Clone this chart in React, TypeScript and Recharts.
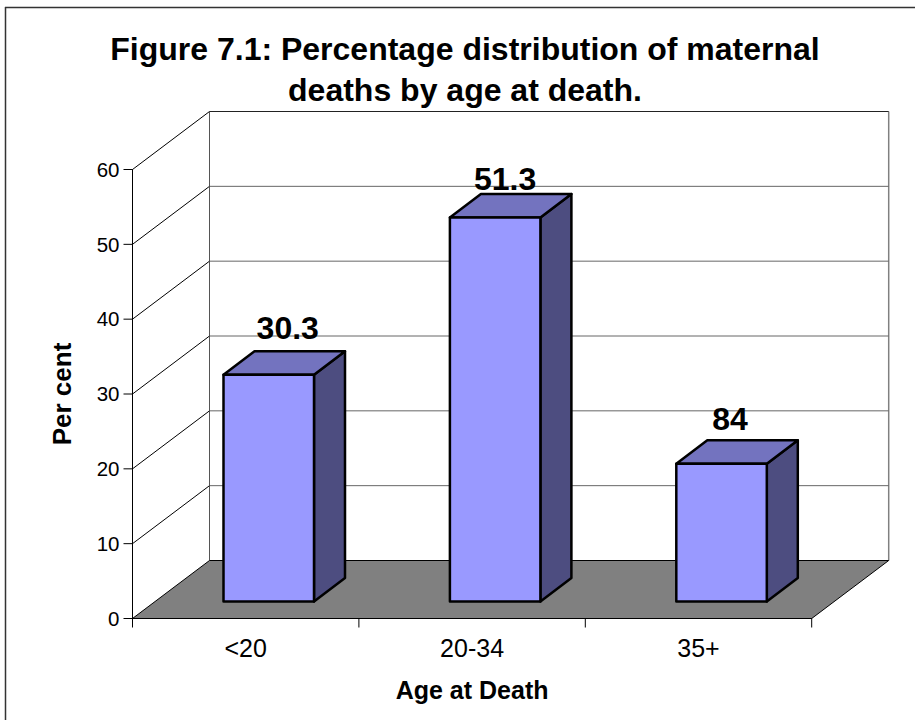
import { BarChart, Bar, XAxis, YAxis, CartesianGrid, LabelList } from 'recharts'

const categories = ['<20', '20-34', '35+']
const percents = [30.3, 51.3, 18.4]
// the third label really is cut down to "84" in the source figure
const barLabels = ['30.3', '51.3', '84']
const yTicks = [0, 10, 20, 30, 40, 50, 60]

const rows = categories.map((age, i) => ({ age, percent: percents[i], label: barLabels[i] }))

const FONT = "'Liberation Sans', Arial, sans-serif"
const W = 915
const H = 720
const LEFT = 132.5
const RIGHT = 811.7
const TOP = 169.5
const BOTTOM = 618.5
const BAND = (RIGHT - LEFT) / categories.length
// depth of the fake 3D box
const DX = 77
const DY = -58
// how far the bars sit inside the floor, and how deep they are
const BAR_DX = 23
const BAR_DY = -17
const BAR_DEPTH_X = 31
const BAR_DEPTH_Y = -23.5
const labelNudge = [
  { dx: 19, dy: -36 },
  { dx: 10, dy: -28 },
  { dx: 8.5, dy: -34 },
]

function BoxBar(props: any) {
  const x = props.x + BAR_DX
  const y = props.y + BAR_DY
  const w = props.width
  const h = props.height
  const dx = BAR_DEPTH_X
  const dy = BAR_DEPTH_Y
  const common = { stroke: '#000', strokeWidth: 2.5, strokeLinejoin: 'round' as const }
  return (
    <g>
      <polygon points={`${x + w},${y} ${x + w + dx},${y + dy} ${x + w + dx},${y + h + dy} ${x + w},${y + h}`} fill="#4D4D80" {...common} />
      <polygon points={`${x},${y} ${x + dx},${y + dy} ${x + w + dx},${y + dy} ${x + w},${y}`} fill="#7373BF" {...common} />
      <rect x={x} y={y} width={w} height={h} fill="#9999FF" {...common} />
    </g>
  )
}

function BarValue(props: any) {
  const { x, y, width, value, index } = props
  const nudge = labelNudge[index]
  return (
    <text
      x={x + BAR_DX + width / 2 + nudge.dx}
      y={y + BAR_DY + nudge.dy}
      textAnchor="middle"
      fontFamily={FONT}
      fontSize={32}
      fontWeight={700}
      fill="#000"
    >
      {value}
    </text>
  )
}

// tick marks sit between the categories, not under them
function AgeTick(props: any) {
  const { x, y, payload, index } = props
  return (
    <g>
      <line x1={x - BAND / 2} y1={y} x2={x - BAND / 2} y2={y + 9} stroke="#000" />
      {index === categories.length - 1 && <line x1={x + BAND / 2} y1={y} x2={x + BAND / 2} y2={y + 9} stroke="#000" />}
      <text x={x} y={y + 38} textAnchor="middle" fontFamily={FONT} fontSize={25} fill="#000">
        {payload.value}
      </text>
    </g>
  )
}

// the grid callback draws the wall line and the diagonal on the side wall for each tick
function WallLine(props: any) {
  const { x1, x2, y1, key } = props
  const isFloor = Math.abs(y1 - BOTTOM) < 1
  const isTop = Math.abs(y1 - TOP) < 1
  return (
    <g key={key}>
      {isFloor && (
        <>
          <line x1={x1} y1={TOP} x2={x1} y2={BOTTOM} stroke="#000" />
          <line x1={x1 + DX} y1={TOP + DY} x2={x1 + DX} y2={BOTTOM + DY} stroke="#555" />
          <line x1={x2 + DX} y1={TOP + DY} x2={x2 + DX} y2={BOTTOM + DY} stroke="#808080" strokeWidth={1.5} />
          <polygon
            points={`${x1},${y1} ${x2},${y1} ${x2 + DX},${y1 + DY} ${x1 + DX},${y1 + DY}`}
            fill="#808080"
            stroke="#000"
            strokeWidth={1}
          />
        </>
      )}
      {!isFloor && <line x1={x1} y1={y1} x2={x1 + DX} y2={y1 + DY} stroke="#000" strokeWidth={1} />}
      {!isFloor && (
        <line x1={x1 + DX} y1={y1 + DY} x2={x2 + DX} y2={y1 + DY} stroke={isTop ? '#222' : '#666'} strokeWidth={1} />
      )}
    </g>
  )
}

const titleStyle = { fontFamily: FONT, fontSize: 32, fontWeight: 700, fill: '#000' }

export default function App() {
  return (
    <div style={{ position: 'absolute', left: 0, top: 0, width: W, height: H, background: '#fff', overflow: 'hidden' }}>
      <BarChart
        width={W}
        height={H}
        data={rows}
        margin={{ top: TOP, right: W - RIGHT, bottom: 0, left: 0 }}
        barSize={90.5}
      >
        <CartesianGrid horizontal={WallLine as any} vertical={false} />
        <XAxis
          dataKey="age"
          height={H - BOTTOM}
          tickLine={false}
          tickSize={0}
          tickMargin={0}
          tick={AgeTick}
          axisLine={{ stroke: '#000' }}
          label={{ value: 'Age at Death', position: 'insideBottom', offset: 21, style: { fontFamily: FONT, fontSize: 25, fontWeight: 700, fill: '#000' } }}
        />
        <YAxis
          width={LEFT}
          domain={[0, 60]}
          ticks={yTicks}
          interval={0}
          tickSize={9}
          tickMargin={4}
          tick={{ fontFamily: FONT, fontSize: 20.5, fill: '#000' }}
          tickLine={{ stroke: '#000' }}
          axisLine={{ stroke: '#000' }}
          label={{ value: 'Per cent', angle: -90, position: 'insideLeft', offset: 62, style: { fontFamily: FONT, fontSize: 26, fontWeight: 700, fill: '#000', textAnchor: 'middle' } }}
        />
        <Bar dataKey="percent" shape={BoxBar} isAnimationActive={false}>
          <LabelList dataKey="label" content={BarValue} />
        </Bar>
        <text x={465} y={60} textAnchor="middle" {...titleStyle}>Figure 7.1: Percentage distribution of maternal</text>
        <text x={465} y={100.5} textAnchor="middle" {...titleStyle}>deaths by age at death.</text>
        <line x1={5} y1={7.5} x2={W} y2={7.5} stroke="#333" strokeWidth={1.5} />
        <line x1={5.5} y1={7} x2={5.5} y2={H} stroke="#333" strokeWidth={1.5} />
      </BarChart>
    </div>
  )
}
